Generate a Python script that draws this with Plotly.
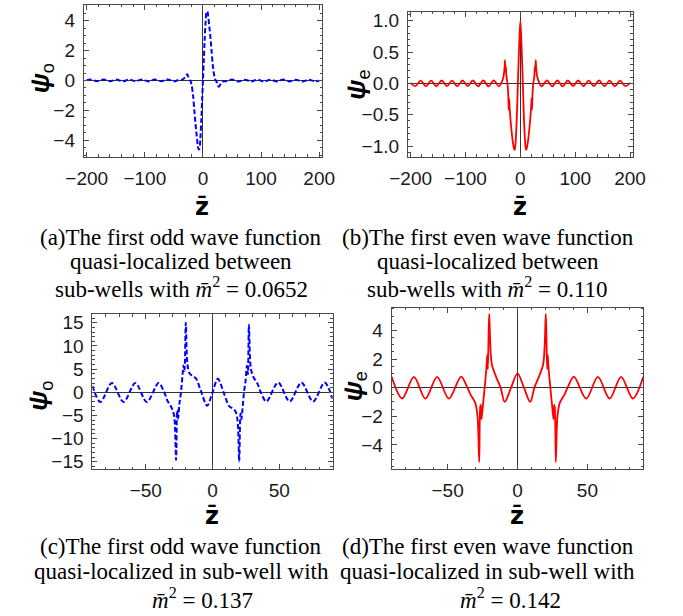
import plotly.graph_objects as go

# ---------------- data ----------------
# (a) first odd wave function, quasi-localized between sub-wells, m^2 = 0.0652
z_a = [-200, -193, -182, -171, -160, -149, -138, -127, -116, -105, -94, -83, -72, -61, -50,
       -41, -35, -31, -28.5, -27, -25, -23, -21, -19.5, -17, -14.7, -12.8, -11, -9, -7.5, -6,
       -4.5, -2.8, -1.4, 0,
       1.4, 2.8, 4.5, 6, 7.5, 9, 11, 12.8, 14.7, 17, 19.5, 21, 23, 25, 27, 28.5, 31, 35, 41,
       50, 61, 72, 83, 94, 105, 116, 127, 138, 149, 160, 171, 182, 193, 200]
psi_a = [0.02, 0.06, -0.05, 0.07, -0.05, 0.06, -0.06, 0.06, -0.05, 0.07, -0.06, 0.06, -0.05, 0.07, -0.06,
         0.05, 0.06, 0.2, 0.36, 0.42, 0.22, 0.05, -0.08, -0.3, -1.0, -2.05, -2.9, -3.6, -4.3, -4.62, -4.55,
         -3.9, -2.6, -1.3, 0.0,
         1.3, 2.6, 3.9, 4.55, 4.62, 4.3, 3.6, 2.9, 2.05, 1.0, 0.3, 0.08, -0.05, -0.22, -0.42, -0.36, -0.2, -0.06, -0.05,
         0.06, -0.07, 0.05, -0.06, 0.06, -0.07, 0.05, -0.06, 0.06, -0.06, 0.05, -0.07, 0.05, -0.06, -0.02]

# (b) first even wave function, quasi-localized between sub-wells, m^2 = 0.110
z_b = [-200, -191.3, -181.7, -172.2, -162.6, -153.1, -143.5, -134, -124.5, -115, -105.5, -96,
       -86.5, -77, -67.5, -58, -48.4, -39, -33, -30.5, -28.8, -28, -27.2, -26.5, -25.5, -23.5,
       -22, -21.3, -20.5, -19.5, -16.5, -13.5, -11.5, -10.4, -9, -6.5, -4.5, -2.2, 0,
       2.2, 4.5, 6.5, 9, 10.4, 11.5, 13.5, 16.5, 19.5, 20.5, 21.3, 22, 23.5, 25.5, 26.5, 27.2,
       28, 28.8, 30.5, 33, 39, 48.4, 58, 67.5, 77, 86.5, 96, 105.5, 115, 124.5, 134, 143.5,
       153.1, 162.6, 172.2, 181.7, 191.3, 200]
psi_b = [0.01, -0.045, 0.045, -0.047, 0.045, -0.046, 0.046, -0.045, 0.045, -0.046, 0.046, -0.045,
         0.046, -0.047, 0.046, -0.047, 0.047, -0.048, 0.04, 0.12, 0.25, 0.37, 0.2, 0.27, 0.12, 0.0,
         -0.2, -0.42, -0.24, -0.4, -0.72, -0.95, -1.04, -1.06, -0.98, -0.55, 0.0, 0.6, 1.0,
         0.6, 0.0, -0.55, -0.98, -1.06, -1.04, -0.95, -0.72, -0.4, -0.24, -0.42, -0.2, 0.0, 0.12, 0.27, 0.2,
         0.37, 0.25, 0.12, 0.04, -0.048, 0.047, -0.047, 0.046, -0.047, 0.046, -0.045, 0.046, -0.046, 0.045, -0.045, 0.046,
         -0.046, 0.045, -0.047, 0.045, -0.045, 0.01]

# (c) first odd wave function, quasi-localized in sub-well, m^2 = 0.137
z_c = [-90, -84, -75.4, -66.6, -57.8, -49.2, -40.4, -36.3, -33.8, -30.5, -28.7, -27.3, -26.5,
       -25.8, -24.8, -23.6, -22.4, -21.7, -21.0, -20.0, -18.8, -17.2, -14.5, -12.4, -8.8, -4.0, 0,
       4.0, 8.8, 12.4, 14.5, 17.2, 18.8, 20.0, 21.0, 21.7, 22.4, 23.6, 24.8, 25.8, 26.5, 27.3,
       28.7, 30.5, 33.8, 36.3, 40.4, 49.2, 57.8, 66.6, 75.4, 84, 90]
psi_c = [1.4, -2.1, 2.0, -2.1, 2.0, -2.1, 2.0, 0.1, -1.8, -3.4, -5.2, -14.6, -3.9,
         -5.7, -2.5, 0.0, 3.9, 5.8, 4.6, 15.0, 6.1, 4.1, 3.4, 3.0, 0.4, -2.9, 0.0,
         2.9, -0.4, -3.0, -3.4, -4.1, -6.1, -15.0, -4.6, -5.8, -3.9, 0.0, 2.5, 5.7, 3.9, 14.6,
         5.2, 3.4, 1.8, -0.1, -2.0, 2.1, -2.0, 2.1, -2.0, 2.1, -1.4]

# (d) first even wave function, quasi-localized in sub-well, m^2 = 0.142
z_d = [-90, -82.5, -74.1, -65.9, -57.5, -49.1, -40.4, -36.3, -33.7, -30.3, -28.6, -27.4, -26.6,
       -26.2, -25.8, -25.2, -23.5, -22.3, -21.6, -21.2, -20.6, -20.2, -19.5, -18.3, -15.5, -12.1,
       -9.1, -4.6, 0,
       4.6, 9.1, 12.1, 15.5, 18.3, 19.5, 20.2, 20.6, 21.2, 21.6, 22.3, 23.5, 25.2, 25.8, 26.2,
       26.6, 27.4, 28.6, 30.3, 33.7, 36.3, 40.4, 49.1, 57.5, 65.9, 74.1, 82.5, 90]
psi_d = [0.75, -0.76, 0.75, -0.77, 0.75, -0.77, 0.77, 0.1, -0.47, -1.05, -2.0, -5.2, -1.3,
         -1.2, -2.2, -1.7, 0.0, 1.3, 2.3, 1.3, 4.1, 5.15, 3.1, 1.6, 0.8, 0.0,
         -1.0, 0.0, 1.0,
         0.0, -1.0, 0.0, 0.8, 1.6, 3.1, 5.15, 4.1, 1.3, 2.3, 1.3, 0.0, -1.7, -2.2, -1.2,
         -1.3, -5.2, -2.0, -1.05, -0.47, 0.1, 0.77, -0.77, 0.75, -0.77, 0.75, -0.76, 0.75]

# tick values per panel
xt_ab = [-200, -100, 0, 100, 200]
yt_a = [-4, -2, 0, 2, 4]
yt_b = [-1.0, -0.5, 0.0, 0.5, 1.0]
xt_cd = [-50, 0, 50]
yt_c = [-15, -10, -5, 0, 5, 10, 15]
yt_d = [-4, -2, 0, 2, 4]

captions = [
    ["(a)The first odd wave function", "quasi-localized between",
     "sub-wells with <i>m̄</i><sup>2</sup> = 0.0652"],
    ["(b)The first even wave function", "quasi-localized between",
     "sub-wells with <i>m̄</i><sup>2</sup> = 0.110"],
    ["(c)The first odd wave function", "quasi-localized in sub-well with",
     "<i>m̄</i><sup>2</sup> = 0.137"],
    ["(d)The first even wave function", "quasi-localized in sub-well with",
     "<i>m̄</i><sup>2</sup> = 0.142"],
]

# ---------------- figure ----------------
W, H = 683, 616
BLUE = "rgb(0,0,255)"
RED = "rgb(255,0,0)"
FRAME = "#4a4a4a"


def px(x):
    return x / W


def py(y):
    return 1 - y / H


fig = go.Figure()

fig.add_trace(go.Scatter(x=z_a, y=psi_a, mode="lines", xaxis="x", yaxis="y",
                         line=dict(color=BLUE, width=2, dash="5px,2.5px", shape="spline", smoothing=0.9)))
fig.add_trace(go.Scatter(x=z_b, y=psi_b, mode="lines", xaxis="x2", yaxis="y2",
                         line=dict(color=RED, width=1.8, shape="spline", smoothing=0.9)))
fig.add_trace(go.Scatter(x=z_c, y=psi_c, mode="lines", xaxis="x3", yaxis="y3",
                         line=dict(color=BLUE, width=2, dash="5px,2.5px", shape="spline", smoothing=0.9)))
fig.add_trace(go.Scatter(x=z_d, y=psi_d, mode="lines", xaxis="x4", yaxis="y4",
                         line=dict(color=RED, width=1.8, shape="spline", smoothing=0.9)))

tickfont = dict(family="Liberation Sans", size=19, color="#1a1a1a")


def xaxis(domain, rng, ticks, minor, anchor):
    return dict(domain=domain, range=rng, anchor=anchor, tickvals=ticks,
                showline=True, linecolor=FRAME, linewidth=1, mirror="allticks",
                ticks="inside", ticklen=5, tickcolor=FRAME, tickwidth=1,
                minor=dict(dtick=minor, ticks="inside", ticklen=2.5, tickcolor=FRAME, tickwidth=1),
                showgrid=False, zeroline=True, zerolinecolor="#333", zerolinewidth=1.2,
                tickfont=tickfont, ticklabelstandoff=4)


def yaxis(domain, rng, ticks, minor, anchor, fmt=None):
    d = dict(domain=domain, range=rng, anchor=anchor, tickvals=ticks,
             showline=True, linecolor=FRAME, linewidth=1, mirror="allticks",
             ticks="inside", ticklen=5, tickcolor=FRAME, tickwidth=1,
             minor=dict(dtick=minor, ticks="inside", ticklen=2.5, tickcolor=FRAME, tickwidth=1),
             showgrid=False, zeroline=True, zerolinecolor="#333", zerolinewidth=1.2,
             tickfont=tickfont, ticklabelstandoff=4)
    if fmt:
        d["tickformat"] = fmt
    return d


# plot-area boxes in pixels: (left, right, top, bottom)
box_a = (68, 318, 3, 156)
box_b = (408, 644, 10, 156)
box_c = (77, 329, 315, 471)
box_d = (391, 655, 308, 471)


def dom(box):
    l, r, t, b = box
    return [px(l), px(r)], [py(b), py(t)]


xa, ya = dom(box_a)
xb, yb = dom(box_b)
xc, yc = dom(box_c)
xd, yd = dom(box_d)

fig.update_layout(
    width=W, height=H, margin=dict(l=0, r=0, t=0, b=0),
    paper_bgcolor="white", plot_bgcolor="white", showlegend=False,
    xaxis=xaxis(xa, [-205, 205], xt_ab, 20, "y"),
    yaxis=yaxis(ya, [-5.1, 5.05], yt_a, 0.5, "x"),
    xaxis2=xaxis(xb, [-205, 205], xt_ab, 20, "y2"),
    yaxis2=yaxis(yb, [-1.17, 1.14], yt_b, 0.1, "x2", ".1f"),
    xaxis3=xaxis(xc, [-90, 90], xt_cd, 10, "y3"),
    yaxis3=yaxis(yc, [-16.6, 16.8], yt_c, 1, "x3"),
    xaxis4=xaxis(xd, [-90, 90], xt_cd, 10, "y4"),
    yaxis4=yaxis(yd, [-5.7, 5.6], yt_d, 0.5, "x4"),
)

ann = []
# axis titles
ylab_pos = [("o", 23, 77), ("e", 355, 83), ("o", 22, 397), ("e", 352, 388)]
for sub, x, y in ylab_pos:
    ann.append(dict(text="<b><i>ψ</i></b><sub>" + sub + "</sub>", x=px(x), y=py(y),
                    xref="paper", yref="paper", showarrow=False, textangle=-90,
                    xanchor="center", yanchor="middle",
                    font=dict(family="Liberation Sans", size=26, color="black")))
xlab_pos = [(192, 207), (526, 207), (202, 518), (523, 518)]
for x, y in xlab_pos:
    ann.append(dict(text="<b>z̄</b>", x=px(x), y=py(y), xref="paper", yref="paper",
                    showarrow=False, xanchor="center", yanchor="middle",
                    font=dict(family="DejaVu Sans", size=24, color="black")))

# captions: three lines under each panel
cap_x = [170, 492, 170, 492]
cap_y = [(237, 262, 288), (237, 262, 288), (549, 574, 601), (549, 574, 601)]
last_x = [170, 492, 193, 516]
for i, lines in enumerate(captions):
    for j, line in enumerate(lines):
        xx = last_x[i] if j == 2 else cap_x[i]
        ann.append(dict(text=line, x=px(xx), y=py(cap_y[i][j]), xref="paper", yref="paper",
                        showarrow=False, xanchor="center", yanchor="middle",
                        font=dict(family="Liberation Serif", size=23, color="black")))

fig.update_layout(annotations=ann)
fig.write_html("out.html")
